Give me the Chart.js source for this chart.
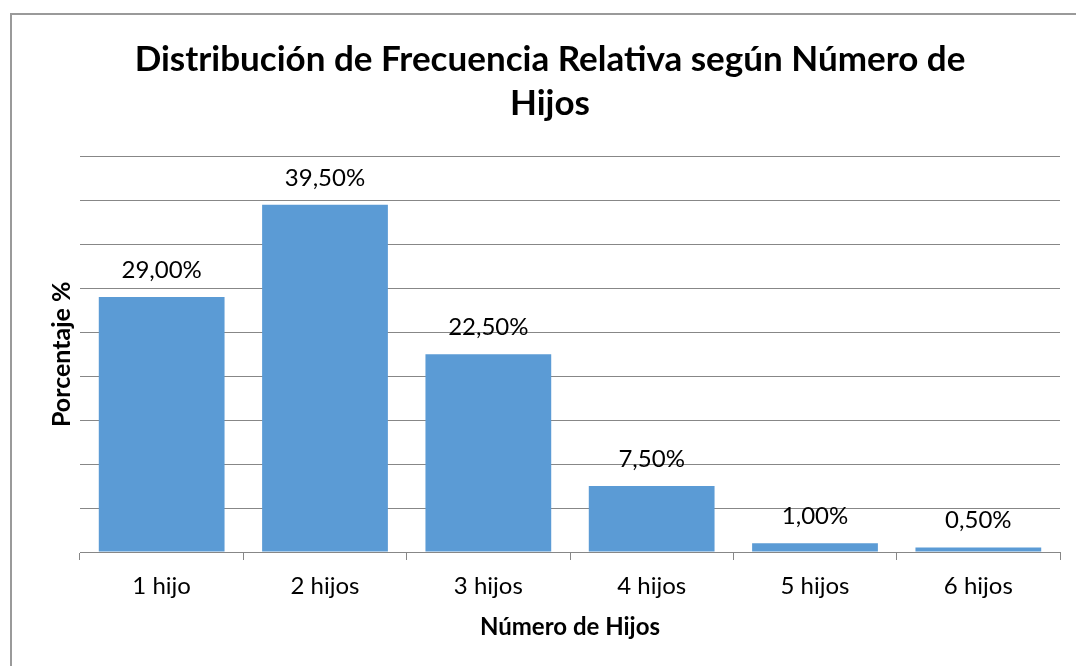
<!DOCTYPE html>
<html>
<head>
<meta charset="utf-8">
<script src="https://cdn.jsdelivr.net/npm/chart.js@4.4.1/dist/chart.umd.min.js"></script>
<style>
  html, body { margin: 0; padding: 0; background: #fff; overflow: hidden; }
  #frame {
    position: absolute; left: 10px; top: 13px; width: 2000px; height: 2000px;
    border-left: 2px solid #9a9a9a; border-top: 2px solid #9a9a9a;
  }
  #wrap { position: absolute; left: 0; top: 0; width: 1076px; height: 666px; }
</style>
</head>
<body>
<div id="frame"></div>
<div id="wrap"><canvas id="chart"></canvas></div>
<script>
const categories = ['1 hijo', '2 hijos', '3 hijos', '4 hijos', '5 hijos', '6 hijos'];
const percentages = [29.0, 39.5, 22.5, 7.5, 1.0, 0.5];
const titleLines = ['Distribución de Frecuencia Relativa según Número de', 'Hijos'];
const yMax = 45;
const yStep = 5;

const gray = '#878787';
const fontFamily = 'Lato, "Open Sans", sans-serif';

// Draws "29,00%" style labels above each bar
const valueLabels = {
  id: 'valueLabels',
  afterDatasetsDraw(chart) {
    const ctx = chart.ctx;
    const meta = chart.getDatasetMeta(0);
    ctx.save();
    ctx.font = '24px ' + fontFamily;
    ctx.fillStyle = '#000';
    ctx.textAlign = 'center';
    ctx.textBaseline = 'middle';
    meta.data.forEach((bar, i) => {
      const text = percentages[i].toFixed(2).replace('.', ',') + '%';
      ctx.fillText(text, bar.x, bar.y - 27);
    });
    ctx.restore();
  }
};

const ctx = document.getElementById('chart').getContext('2d');
new Chart(ctx, {
  type: 'bar',
  data: {
    labels: categories,
    datasets: [{
      data: percentages,
      backgroundColor: '#5B9BD5',
      borderWidth: 0,
      barPercentage: 0.77,
      categoryPercentage: 1
    }]
  },
  options: {
    responsive: true,
    maintainAspectRatio: false,
    animation: false,
    layout: { padding: { left: 40, right: 16, top: 0, bottom: 0 } },
    plugins: {
      legend: { display: false },
      tooltip: { enabled: false },
      title: {
        display: true,
        text: titleLines,
        color: '#000',
        font: { family: fontFamily, size: 35, weight: 'bold', lineHeight: 1.25 },
        padding: { top: 38, bottom: 31 }
      }
    },
    scales: {
      x: {
        grid: { drawOnChartArea: false, drawTicks: true, tickLength: 8, color: gray },
        border: { display: true, color: gray, width: 1 },
        ticks: { color: '#000', font: { family: fontFamily, size: 24 }, padding: 12 },
        title: {
          display: true,
          text: 'Número de Hijos',
          color: '#000',
          font: { family: fontFamily, size: 24, weight: 'bold' },
          padding: { top: 0, bottom: 24 }
        },
        afterFit(scale) { scale.height = 114; }
      },
      y: {
        min: 0,
        max: yMax,
        grid: { drawTicks: false, color: gray },
        border: { display: false },
        ticks: { display: false, stepSize: yStep },
        title: {
          display: true,
          text: 'Porcentaje %',
          color: '#000',
          font: { family: fontFamily, size: 25, weight: 'bold' },
          padding: { top: 7, bottom: 0 }
        },
        afterFit(scale) { scale.width = 40; }
      }
    }
  },
  plugins: [valueLabels]
});
</script>
</body>
</html>
